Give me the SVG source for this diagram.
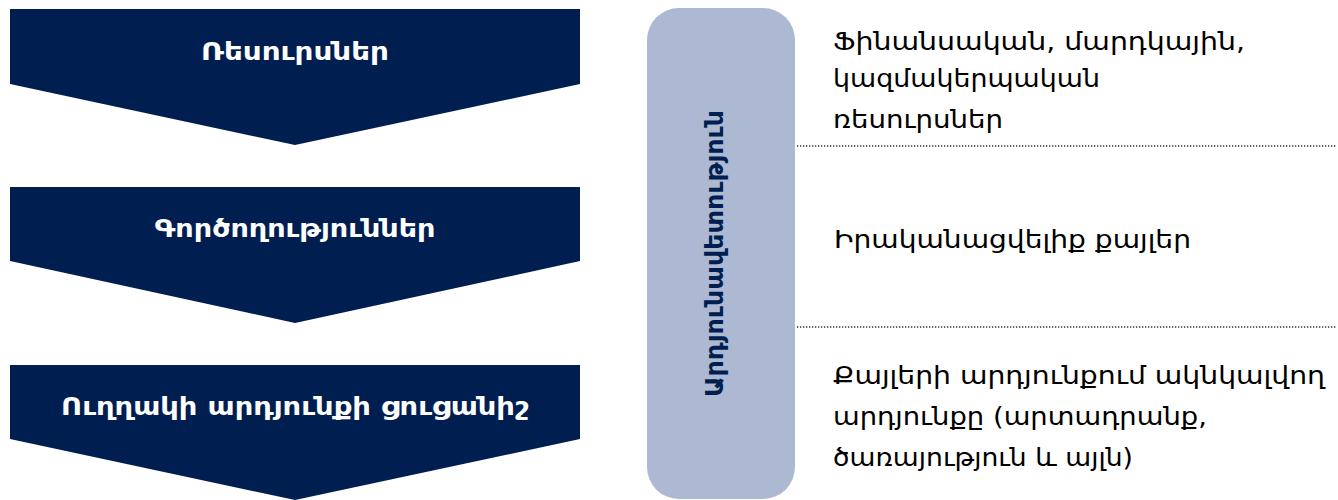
<svg xmlns="http://www.w3.org/2000/svg" width="1338" height="500" viewBox="0 0 1338 500">
<style>
.chev{fill:#001E50}
.lt{font-family:"DejaVu Sans",sans-serif;font-weight:bold;font-size:24px;fill:#fff;text-anchor:middle}
.vt{font-family:"DejaVu Sans",sans-serif;font-weight:bold;font-size:24px;fill:#001E50;text-anchor:middle}
.rt{font-family:"DejaVu Sans",sans-serif;font-size:25px;fill:#000}
.dot{stroke:#333;stroke-width:1.3;stroke-dasharray:1.3 1.7;fill:none}
</style>
<rect width="1338" height="500" fill="#fff"/>
<g id="n1"><path class="chev" d="M10,9H580V84L295,145L10,84Z"/><text class="lt" x="295" y="60" textLength="188" lengthAdjust="spacingAndGlyphs">Ռեսուրսներ</text></g>
<g id="n2"><path class="chev" d="M10,187H580V261L295,323L10,261Z"/><text class="lt" x="295" y="237" textLength="281" lengthAdjust="spacingAndGlyphs">Գործողություններ</text></g>
<g id="n3"><path class="chev" d="M10,365H580V439L295,500L10,439Z"/><text class="lt" x="295" y="415" textLength="468" lengthAdjust="spacingAndGlyphs">Ուղղակի արդյունքի ցուցանիշ</text></g>
<g id="bar"><rect x="647" y="8" width="148" height="491" rx="32" fill="#ADB9D2"/>
<text class="vt" transform="translate(723,253.5) rotate(-90)" textLength="287" lengthAdjust="spacingAndGlyphs">Արդյունավետություն</text></g>
<g id="connectors"><line class="dot" x1="797" y1="146" x2="1336" y2="146"/><line class="dot" x1="797" y1="327" x2="1336" y2="327"/></g>
<g id="t1"><text class="rt" x="833" y="50" textLength="412" lengthAdjust="spacingAndGlyphs">Ֆինանսական, մարդկային,</text><text class="rt" x="833" y="87" textLength="267" lengthAdjust="spacingAndGlyphs">կազմակերպական</text><text class="rt" x="833" y="128" textLength="170" lengthAdjust="spacingAndGlyphs">ռեսուրսներ</text></g>
<g id="t2"><text class="rt" x="834" y="248" textLength="357" lengthAdjust="spacingAndGlyphs">Իրականացվելիք  քայլեր</text></g>
<g id="t3"><text class="rt" x="833" y="384" textLength="492" lengthAdjust="spacingAndGlyphs">Քայլերի արդյունքում ակնկալվող</text><text class="rt" x="833" y="425" textLength="374" lengthAdjust="spacingAndGlyphs">արդյունքը (արտադրանք,</text><text class="rt" x="833" y="466" textLength="300" lengthAdjust="spacingAndGlyphs">ծառայություն և այլն)</text></g>
</svg>
